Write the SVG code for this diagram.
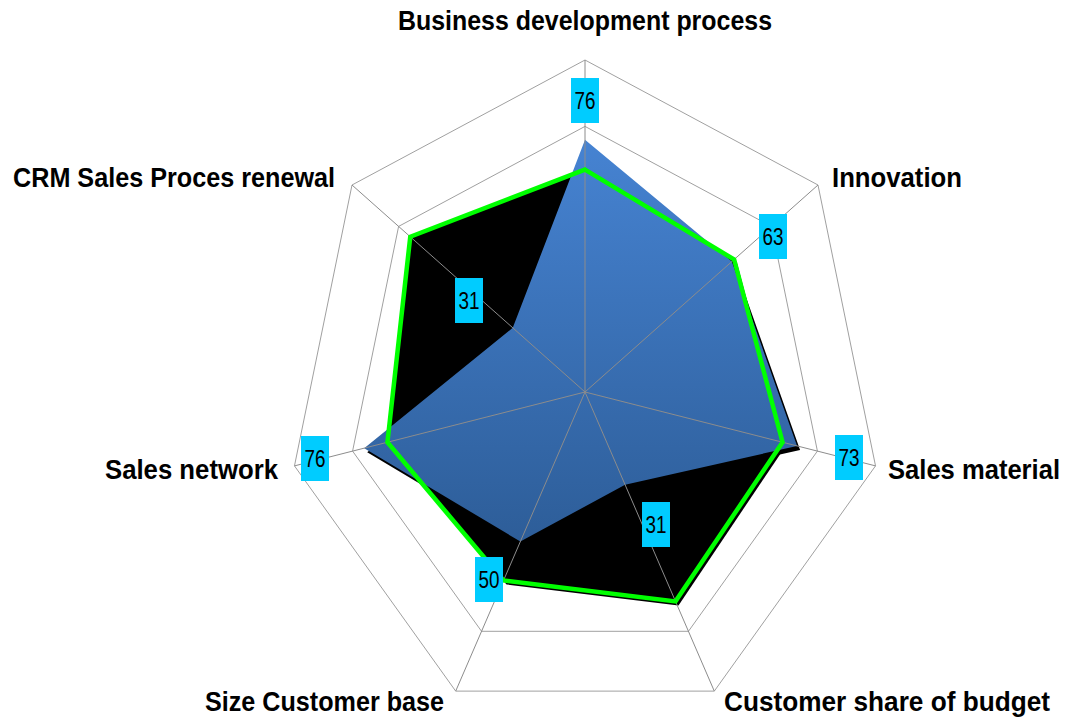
<svg xmlns="http://www.w3.org/2000/svg" width="1069" height="718" viewBox="0 0 1069 718">
<style>
.ring{fill:none;stroke:#a0a0a0;stroke-width:1}
.spoke{stroke:#8c8c8c;stroke-width:1}
.title{font-family:"Liberation Sans",Arial,sans-serif;font-weight:bold;font-size:27px;fill:#000}
.box{fill:#00CCFF}
.val{font-family:"Liberation Sans",Arial,sans-serif;font-size:23px;fill:#000}
</style>
<defs>
<linearGradient id="blueGrad" gradientUnits="userSpaceOnUse" x1="0" y1="140" x2="0" y2="545">
<stop offset="0" stop-color="#4683D2"/>
<stop offset="1" stop-color="#2D5D98"/>
</linearGradient>
</defs>
<rect width="1069" height="718" fill="#fff"/>
<g id="grid">
<polygon class="ring" points="585,325.6 631.6,350.6 643.11,406.78 610.86,451.82 559.14,451.82 526.89,406.78 538.4,350.6"/>
<polygon class="ring" points="585,259.2 678.2,309.2 701.21,421.55 636.72,511.65 533.28,511.65 468.79,421.55 491.8,309.2"/>
<polygon class="ring" points="585,192.8 724.79,267.8 759.32,436.33 662.58,571.47 507.42,571.47 410.68,436.33 445.21,267.8"/>
<polygon class="ring" points="585,126.4 771.39,226.4 817.42,451.1 688.44,631.3 481.56,631.3 352.58,451.1 398.61,226.4"/>
<polygon class="ring" points="585,60 817.99,185 875.53,465.88 714.3,691.12 455.7,691.12 294.47,465.88 352.01,185"/>
</g>
<g id="series-black">
<polygon transform="translate(3,4)" fill="#000" points="585,169.56 734.11,259.52 782.56,442.24 675.51,601.38 503.54,580.45 387.44,442.24 410.26,236.75"/>
<polygon fill="#000" points="585,169.56 734.11,259.52 782.56,442.24 675.51,601.38 503.54,580.45 387.44,442.24 410.26,236.75"/>
</g>
<g id="series-blue">
<polygon transform="translate(3,4)" fill="#000" points="585,139.68 731.78,261.59 797.09,445.93 625.08,484.73 520.35,541.56 364.2,448.15 512.77,327.83"/>
<polygon fill="url(#blueGrad)" points="585,139.68 731.78,261.59 797.09,445.93 625.08,484.73 520.35,541.56 364.2,448.15 512.77,327.83"/>
</g>
<g id="connectors">
<line class="spoke" x1="585" y1="392" x2="585" y2="60"/>
<line class="spoke" x1="585" y1="392" x2="817.99" y2="185"/>
<line class="spoke" x1="585" y1="392" x2="875.53" y2="465.88"/>
<line class="spoke" x1="585" y1="392" x2="714.3" y2="691.12"/>
<line class="spoke" x1="585" y1="392" x2="455.7" y2="691.12"/>
<line class="spoke" x1="585" y1="392" x2="294.47" y2="465.88"/>
<line class="spoke" x1="585" y1="392" x2="352.01" y2="185"/>
</g>
<g id="series-green">
<polygon fill="none" stroke="#00FF00" stroke-width="4.5" stroke-linejoin="miter" points="585,169.56 734.11,259.52 782.56,442.24 675.51,601.38 503.54,580.45 387.44,442.24 410.26,236.75"/>
</g>
<g id="value-labels">
<g id="val-bdp"><rect class="box" x="571" y="78" width="28" height="45"/><text class="val" x="574.5" y="108.8" textLength="21" lengthAdjust="spacingAndGlyphs">76</text></g>
<g id="val-innovation"><rect class="box" x="759" y="214" width="28" height="45"/><text class="val" x="762.5" y="244.8" textLength="21" lengthAdjust="spacingAndGlyphs">63</text></g>
<g id="val-material"><rect class="box" x="835" y="435" width="28" height="45"/><text class="val" x="838.5" y="465.8" textLength="21" lengthAdjust="spacingAndGlyphs">73</text></g>
<g id="val-share"><rect class="box" x="642" y="502" width="28" height="45"/><text class="val" x="645.5" y="532.8" textLength="21" lengthAdjust="spacingAndGlyphs">31</text></g>
<g id="val-size"><rect class="box" x="475" y="557" width="28" height="45"/><text class="val" x="478.5" y="587.8" textLength="21" lengthAdjust="spacingAndGlyphs">50</text></g>
<g id="val-network"><rect class="box" x="301" y="436" width="28" height="45"/><text class="val" x="304.5" y="466.8" textLength="21" lengthAdjust="spacingAndGlyphs">76</text></g>
<g id="val-crm"><rect class="box" x="455" y="278" width="28" height="45"/><text class="val" x="458.5" y="308.8" textLength="21" lengthAdjust="spacingAndGlyphs">31</text></g>
</g>
<g id="axis-labels">
<g id="lbl-bdp"><text class="title" x="398" y="30" textLength="374" lengthAdjust="spacingAndGlyphs">Business development process</text></g>
<g id="lbl-innovation"><text class="title" x="832" y="187" textLength="130" lengthAdjust="spacingAndGlyphs">Innovation</text></g>
<g id="lbl-material"><text class="title" x="888" y="479" textLength="172" lengthAdjust="spacingAndGlyphs">Sales material</text></g>
<g id="lbl-share"><text class="title" x="724" y="711" textLength="326" lengthAdjust="spacingAndGlyphs">Customer share of budget</text></g>
<g id="lbl-size"><text class="title" x="205" y="711" textLength="239" lengthAdjust="spacingAndGlyphs">Size Customer base</text></g>
<g id="lbl-network"><text class="title" x="105" y="479" textLength="173" lengthAdjust="spacingAndGlyphs">Sales network</text></g>
<g id="lbl-crm"><text class="title" x="13" y="187" textLength="322" lengthAdjust="spacingAndGlyphs">CRM Sales Proces renewal</text></g>
</g>
</svg>
